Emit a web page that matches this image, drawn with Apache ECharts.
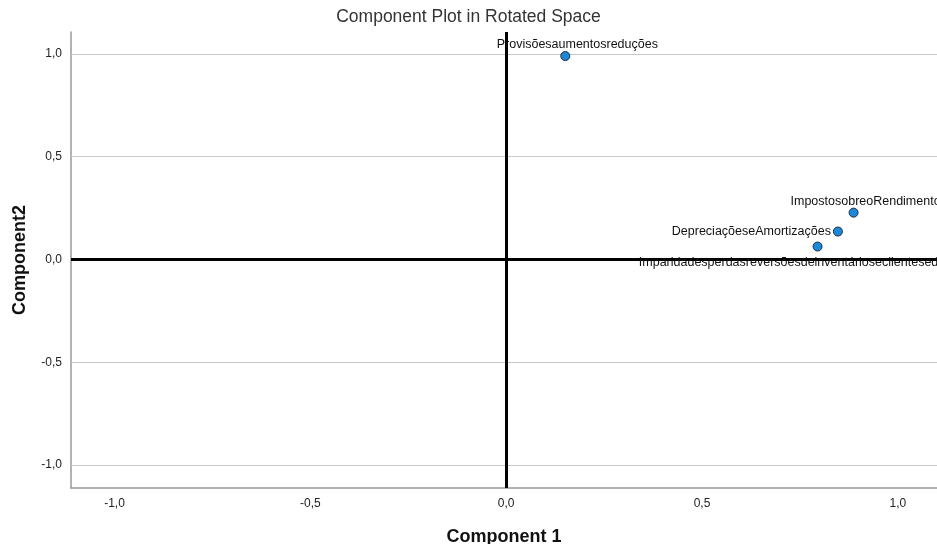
<!DOCTYPE html>
<html>
<head>
<meta charset="utf-8">
<script src="https://cdn.jsdelivr.net/npm/echarts@6/dist/echarts.min.js"></script>
<style>
html,body{margin:0;padding:0;background:#fff;}
#chart{width:937px;height:544px;}
</style>
</head>
<body>
<div id="chart"></div>
<script>
var names = ['Provisõesaumentosreduções', 'ImpostosobreoRendimento', 'DepreciaçõeseAmortizações',
	'Imparidadesperdasreversõesdeinventárioseclientesedívidasareceber'];
var comp1 = [0.151, 0.887, 0.847, 0.795];
var comp2 = [0.990, 0.228, 0.136, 0.063];
var tickVals = [-1, -0.5, 0, 0.5, 1];
var labelPos = ['top', 'top', 'left', 'bottom'];

function fmt(v) {
	return v.toFixed(1).replace('.', ',');
}

var pts = [];
for (var i = 0; i < names.length; i++) {
	var lp = labelPos[i];
	pts.push({
		name: names[i],
		value: [comp1[i], comp2[i]],
		label: {
			position: lp,
			offset: lp == 'left' ? [0, 0] : [12, 0],
			distance: lp == 'bottom' ? 5 : (lp == 'top' ? 0 : 2)
		}
	});
}

// linhas de grade horizontais (cinza) e eixos zero (preto)
var gridLines = [];
for (var j = 0; j < tickVals.length; j++) {
	if (tickVals[j] !== 0) {
		gridLines.push({ yAxis: tickVals[j], lineStyle: { color: '#c8c8c8', width: 1, type: 'solid' } });
	}
}
gridLines.push({ yAxis: 0, lineStyle: { color: '#000', width: 3, type: 'solid' } });
gridLines.push({ xAxis: 0, lineStyle: { color: '#000', width: 3, type: 'solid' } });

var option = {
	animation: false,
	textStyle: { fontFamily: 'Liberation Sans' },
	title: {
		text: 'Component Plot in Rotated Space',
		left: 'center',
		top: 3,
		textStyle: { fontSize: 17.5, fontWeight: 'normal', color: '#333' }
	},
	grid: { left: 71, right: 0, top: 32, bottom: 56, outerBoundsMode: 'none' },
	xAxis: {
		type: 'value',
		min: -1.111,
		max: 1.1,
		name: 'Component 1',
		nameLocation: 'middle',
		nameGap: 40,
		nameTextStyle: { fontSize: 18, fontWeight: 'bold', color: '#111' },
		axisLine: { show: true, onZero: false, lineStyle: { color: '#999', width: 1.5 } },
		axisTick: { show: false },
		splitLine: { show: false },
		axisLabel: { customValues: tickVals, formatter: fmt, color: '#222', fontSize: 12, margin: 10 }
	},
	yAxis: {
		type: 'value',
		min: -1.112,
		max: 1.107,
		name: 'Component2',
		nameLocation: 'middle',
		nameGap: 42,
		nameTextStyle: { fontSize: 18, fontWeight: 'bold', color: '#111' },
		axisLine: { show: true, onZero: false, lineStyle: { color: '#999', width: 1.5 } },
		axisTick: { show: false },
		splitLine: { show: false },
		axisLabel: { customValues: tickVals, formatter: fmt, color: '#222', fontSize: 12, margin: 9 }
	},
	series: [{
		type: 'scatter',
		data: pts,
		symbolSize: 9,
		itemStyle: { color: '#1e88d8', borderColor: '#1a2a44', borderWidth: 1, opacity: 1 },
		label: {
			show: true,
			formatter: '{b}',
			color: '#111',
			fontSize: 12.5
		},
		markLine: {
			silent: true,
			symbol: 'none',
			label: { show: false },
			data: gridLines
		},
		z: 5
	}]
};

var myChart = echarts.init(document.getElementById('chart'));
myChart.setOption(option, true);
</script>
</body>
</html>
